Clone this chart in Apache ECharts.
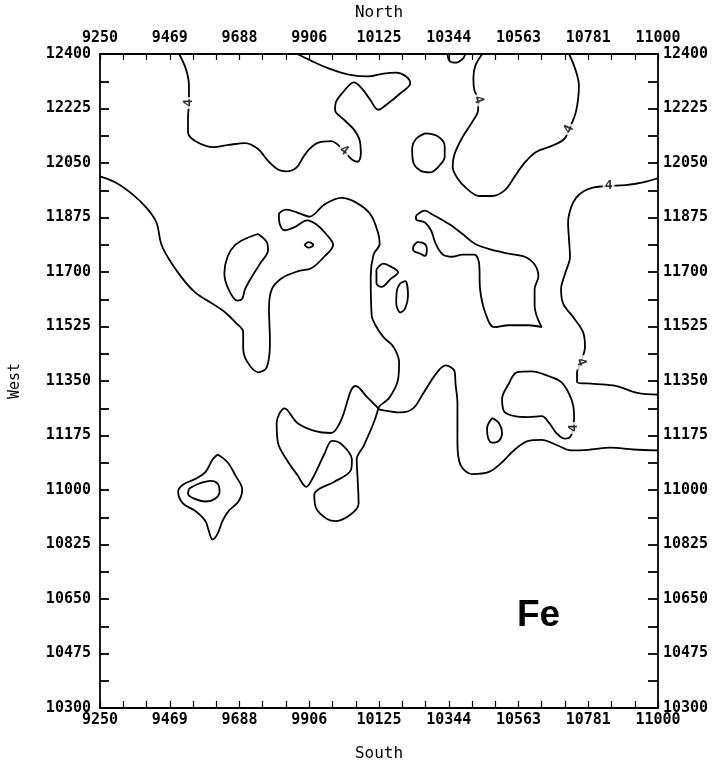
<!DOCTYPE html>
<html>
<head>
<meta charset="utf-8">
<title>Fe</title>
<script src="https://cdn.jsdelivr.net/npm/echarts@6/dist/echarts.min.js"></script>
<style>
html, body { margin: 0; padding: 0; background: #fff; }
#main { width: 720px; height: 767px; }
</style>
</head>
<body>
<div id="main"></div>
<script>
// tick labels of the map frame
var xTickLabels = ['9250', '9469', '9688', '9906', '10125', '10344', '10563', '10781', '11000'];
var yTickLabels = ['10300', '10475', '10650', '10825', '11000', '11175', '11350', '11525', '11700', '11875', '12050', '12225', '12400'];
var xMin = 9250, xMax = 11000;
var yMin = 10300, yMax = 12400;

// Fe contour lines, level 4, points [east, north]
var lineTopLeft = [[9498,12400],[9519,12353],[9529,12299],[9529,12243],[9526,12196],[9526,12149],[9550,12120],[9606,12101],[9653,12108],[9705,12114],[9746,12095],[9777,12057],[9808,12029],[9835,12023],[9866,12035],[9888,12070],[9907,12095],[9931,12114],[9975,12120],[10015,12089],[10040,12061],[10058,12054],[10068,12079],[10065,12120],[10046,12158],[10015,12189],[9987,12221],[9990,12246],[10015,12281],[10046,12309],[10071,12290],[10096,12255],[10123,12221],[10148,12237],[10192,12274],[10223,12306],[10210,12328],[10179,12340],[10139,12337],[10092,12328],[10030,12334],[9969,12353],[9913,12378],[9869,12400]];
var ringTop = [[10269,12145],[10309,12136],[10331,12104],[10331,12070],[10315,12042],[10285,12020],[10254,12026],[10232,12054],[10229,12095],[10241,12127],[10269,12145]];
var lineTopMid = [[10449,12400],[10427,12362],[10421,12321],[10424,12284],[10436,12252],[10436,12221],[10418,12183],[10387,12133],[10362,12079],[10356,12038],[10371,12001],[10402,11966],[10439,11944],[10480,11944],[10520,11963],[10551,12007],[10582,12051],[10619,12086],[10665,12104],[10706,12127],[10721,12158],[10740,12205],[10749,12252],[10752,12299],[10740,12353],[10721,12400]];
var bumpTop = [[10340,12400],[10346,12378],[10365,12372],[10387,12384],[10396,12400]];
var lineRight = [[11000,12001],[10953,11988],[10898,11979],[10845,11976],[10799,11972],[10768,11960],[10743,11938],[10727,11906],[10718,11859],[10721,11803],[10724,11749],[10709,11696],[10696,11645],[10703,11598],[10737,11551],[10765,11507],[10771,11460],[10758,11410],[10746,11378],[10746,11347],[10799,11341],[10867,11334],[10935,11312],[11000,11306]];
var lineLong = [[9250,12007],[9303,11985],[9355,11947],[9396,11906],[9427,11859],[9442,11790],[9467,11740],[9510,11677],[9550,11633],[9603,11598],[9643,11570],[9674,11539],[9699,11507],[9699,11457],[9711,11413],[9746,11378],[9773,11394],[9783,11476],[9780,11583],[9789,11645],[9820,11680],[9869,11702],[9913,11712],[9953,11749],[9981,11787],[9959,11822],[9928,11853],[9900,11866],[9860,11844],[9829,11834],[9814,11853],[9811,11884],[9835,11900],[9869,11891],[9907,11878],[9953,11916],[10006,11938],[10055,11922],[10099,11884],[10123,11822],[10127,11790],[10108,11756],[10099,11686],[10102,11561],[10114,11529],[10139,11491],[10170,11460],[10188,11410],[10185,11356],[10158,11297],[10123,11262],[10139,11256],[10192,11249],[10232,11262],[10263,11309],[10303,11372],[10334,11400],[10362,11381],[10365,11341],[10371,11278],[10371,11152],[10381,11080],[10418,11051],[10470,11058],[10511,11089],[10551,11130],[10594,11158],[10635,11161],[10687,11142],[10727,11127],[10789,11130],[10851,11136],[10923,11130],[11000,11127]];
var loopMiddle = [[10123,11262],[10108,11215],[10077,11142],[10055,11098],[10058,11036],[10061,10957],[10037,10922],[9990,10900],[9962,10907],[9928,10941],[9922,10985],[9938,11004],[9984,11026],[10037,11064],[10040,11098],[10009,11146],[9978,11158],[9953,11114],[9916,11036],[9897,11010],[9869,11048],[9835,11098],[9808,11152],[9804,11215],[9829,11262],[9869,11215],[9922,11190],[9975,11183],[10006,11224],[10037,11319],[10052,11334],[10086,11300],[10123,11262]];
var dotSmall = [[9891,11787],[9904,11796],[9919,11787],[9904,11778],[9891,11787]];
var crescent = [[9746,11822],[9773,11796],[9777,11771],[9752,11727],[9727,11686],[9705,11645],[9696,11614],[9681,11608],[9653,11645],[9640,11696],[9650,11749],[9674,11787],[9711,11809],[9746,11822]];
var triangle = [[10117,11708],[10139,11727],[10161,11718],[10185,11699],[10161,11677],[10133,11652],[10117,11664],[10117,11686],[10117,11708]];
var ovalTall = [[10192,11664],[10207,11671],[10216,11624],[10207,11583],[10192,11570],[10179,11601],[10182,11645],[10192,11664]];
var ringSmall = [[10232,11781],[10247,11796],[10269,11790],[10275,11771],[10269,11752],[10254,11759],[10232,11771],[10232,11781]];
var blobRight = [[10241,11881],[10269,11897],[10294,11884],[10346,11853],[10387,11822],[10427,11790],[10480,11771],[10532,11759],[10582,11749],[10613,11724],[10625,11686],[10613,11645],[10613,11592],[10635,11523],[10594,11529],[10532,11529],[10486,11523],[10458,11570],[10442,11645],[10439,11727],[10424,11756],[10387,11756],[10356,11749],[10325,11756],[10303,11790],[10288,11834],[10269,11859],[10241,11869],[10241,11881]];
var lobeLow = [[10737,11231],[10734,11271],[10721,11309],[10696,11347],[10656,11366],[10604,11381],[10557,11378],[10532,11341],[10511,11293],[10517,11253],[10551,11237],[10594,11234],[10635,11237],[10659,11215],[10681,11183],[10706,11165],[10727,11174],[10737,11231]];
var ovalLow = [[10480,11231],[10501,11215],[10511,11183],[10501,11158],[10480,11152],[10467,11168],[10464,11199],[10480,11231]];
var loopLeftOuter = [[9619,11114],[9650,11089],[9674,11048],[9696,11001],[9684,10963],[9653,10932],[9634,10900],[9619,10860],[9603,10841],[9591,10869],[9581,10900],[9550,10932],[9510,10957],[9495,10995],[9510,11017],[9550,11036],[9581,11058],[9603,11098],[9619,11114]];
var loopLeftInner = [[9529,11004],[9560,11020],[9597,11029],[9619,11020],[9625,10995],[9612,10973],[9581,10963],[9544,10973],[9526,10988],[9529,11004]];

// contour value labels [east, north, rotation]
var levelLabels = [[9529,12243,90],[10015,12089,-35],[10436,12252,-70],[10721,12158,65],[10845,11976,0],[10758,11410,-70],[10734,11199,90]];

var contours = [lineTopLeft, ringTop, lineTopMid, bumpTop, lineRight, lineLong, loopMiddle, dotSmall,
    crescent, triangle, ovalTall, ringSmall, blobRight, lobeLow, ovalLow, loopLeftOuter, loopLeftInner];

var plotFont = '"DejaVu Sans Mono", monospace';

// evenly spaced positions for the ticks
function spread(min, max, n) {
    var arr = [];
    for (var i = 0; i < n; i++) {
        arr.push(min + (max - min) * i / (n - 1));
    }
    return arr;
}
var xTickValues = spread(xMin, xMax, xTickLabels.length);
var xMinorValues = spread(xMin, xMax, (xTickLabels.length - 1) * 3 + 1);
var yTickValues = spread(yMin, yMax, yTickLabels.length);
var yMinorValues = spread(yMin, yMax, (yTickLabels.length - 1) * 2 + 1);

function labelFor(values, labels) {
    return function (v) {
        for (var i = 0; i < values.length; i++) {
            if (Math.abs(values[i] - v) < 0.01) return labels[i];
        }
        return '';
    };
}

function xAxisOf(pos, name, gap, tickLen, margin) {
    return {
        type: 'value', position: pos, min: xMin, max: xMax,
        name: name, nameLocation: 'middle', nameGap: gap,
        nameTextStyle: { fontFamily: plotFont, fontSize: 16, color: '#000' },
        axisLine: { show: true, onZero: false, lineStyle: { color: '#000', width: 1.8 } },
        axisTick: { show: true, inside: true, length: tickLen, customValues: xMinorValues, lineStyle: { color: '#000', width: 1.2 } },
        axisLabel: { show: true, margin: margin, customValues: xTickValues, formatter: labelFor(xTickValues, xTickLabels),
            fontFamily: plotFont, fontWeight: 'bold', fontSize: 15, color: '#000' },
        splitLine: { show: false }
    };
}

function yAxisOf(pos, name, gap, tickLen, margin) {
    return {
        type: 'value', position: pos, min: yMin, max: yMax,
        name: name, nameLocation: 'middle', nameGap: gap, nameRotate: 90,
        nameTextStyle: { fontFamily: plotFont, fontSize: 15, color: '#000' },
        axisLine: { show: true, onZero: false, lineStyle: { color: '#000', width: 1.8 } },
        axisTick: { show: true, inside: true, length: tickLen, customValues: yMinorValues, lineStyle: { color: '#000', width: 1.8 } },
        axisLabel: { show: true, margin: margin, customValues: yTickValues, formatter: labelFor(yTickValues, yTickLabels),
            fontFamily: plotFont, fontWeight: 'bold', fontSize: 15, color: '#000' },
        splitLine: { show: false }
    };
}

var series = [];
for (var i = 0; i < contours.length; i++) {
    series.push({
        type: 'line', xAxisIndex: 0, yAxisIndex: 0,
        data: contours[i], symbol: 'none', smooth: 0.35,
        lineStyle: { color: '#000', width: 1.8 },
        silent: true, z: 2
    });
}

var labelData = [];
for (var j = 0; j < levelLabels.length; j++) {
    labelData.push({
        value: [levelLabels[j][0], levelLabels[j][1]],
        label: { rotate: levelLabels[j][2] }
    });
}
series.push({
    type: 'scatter', xAxisIndex: 0, yAxisIndex: 0,
    data: labelData, symbolSize: 1,
    itemStyle: { color: 'rgba(0,0,0,0)' },
    label: {
        show: true, position: 'inside', formatter: '4',
        fontFamily: plotFont, fontWeight: 'bold', fontSize: 13, color: '#000',
        backgroundColor: '#fff', padding: [0, 2]
    },
    silent: true, z: 5
});

var myChart = echarts.init(document.getElementById('main'), null, { renderer: 'canvas' });
myChart.setOption({
    animation: false,
    backgroundColor: '#fff',
    grid: { left: 93, right: 62, top: 53, bottom: 46, containLabel: false },
    xAxis: [
        xAxisOf('bottom', 'South', 38, 7, 5),
        xAxisOf('top', 'North', 33, 6, 8)
    ],
    yAxis: [
        yAxisOf('left', 'West', 77, 9, 9),
        yAxisOf('right', '', 0, 10, 5)
    ],
    graphic: [{
        type: 'text', left: 517, top: 597,
        style: { text: 'Fe', font: 'bold 37px "Liberation Sans", Arial, sans-serif', fill: '#000' }
    }],
    series: series
});
</script>
</body>
</html>
